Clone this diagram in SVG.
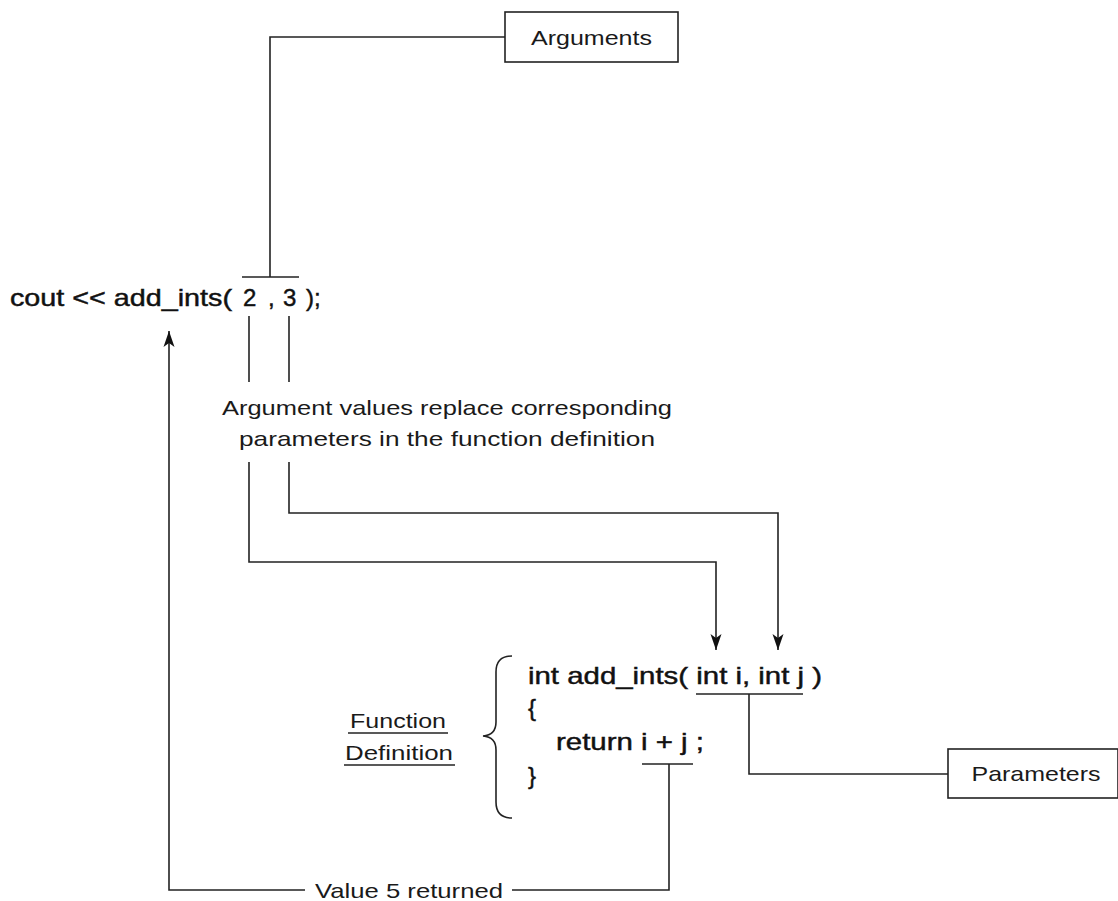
<svg xmlns="http://www.w3.org/2000/svg" width="1118" height="901" viewBox="0 0 1118 901">
<defs>
<style>
.code{font-family:"Liberation Sans",Arial,sans-serif;font-size:24px;fill:#111;stroke:#111;stroke-width:0.45;}
.lbl{font-family:"Liberation Sans",Arial,sans-serif;font-size:21px;fill:#1a1a1a;}
.ln{fill:none;stroke:#222;stroke-width:1.6;}
.box{fill:#fff;stroke:#222;stroke-width:1.6;}
</style>
<marker id="ah" viewBox="0 0 16 14" refX="16" refY="7" markerWidth="16" markerHeight="14" markerUnits="userSpaceOnUse" orient="auto">
<path d="M0,1.5 L16,7 L0,12.5 L4,7 Z" fill="#111"/>
</marker>
</defs>
<rect width="1118" height="901" fill="#fff"/>
<g id="connectors">
<polyline class="ln" points="505,37 270,37 270,277"/>
<line class="ln" x1="242" y1="277" x2="299" y2="277"/>
<line class="ln" x1="249" y1="316" x2="249" y2="382"/>
<line class="ln" x1="289" y1="316" x2="289" y2="382"/>
<polyline class="ln" points="249,462 249,562 716,562 716,650" marker-end="url(#ah)"/>
<polyline class="ln" points="289,462 289,513 778,513 778,650" marker-end="url(#ah)"/>
<line class="ln" x1="696" y1="694" x2="803" y2="694"/>
<polyline class="ln" points="749,694 749,774 948,774"/>
<line class="ln" x1="642" y1="764" x2="693" y2="764"/>
<polyline class="ln" points="512,890 669,890 669,764"/>
<polyline class="ln" points="305,890 169,890 169,331" marker-end="url(#ah)"/>
<path class="ln" d="M512,656 Q496,656 496,672 L496,722 Q496,735 483,736 Q496,737 496,750 L496,802 Q496,818 512,818" stroke="#555"/>
</g>
<g id="call">
<text class="code" x="10" y="306" textLength="222" lengthAdjust="spacingAndGlyphs">cout &lt;&lt; add_ints(</text>
<text class="code" x="243" y="306" font-size="26">2</text>
<text class="code" x="268" y="306">,</text>
<text class="code" x="283" y="306" font-size="26">3</text>
<text class="code" x="306" y="306">);</text>
</g>
<g id="arguments">
<rect class="box" x="505" y="12" width="173" height="50"/>
<text class="lbl" x="591.5" y="45" text-anchor="middle" textLength="121" lengthAdjust="spacingAndGlyphs">Arguments</text>
</g>
<g id="note">
<text class="lbl" x="447" y="415" text-anchor="middle" textLength="450" lengthAdjust="spacingAndGlyphs">Argument values replace corresponding</text>
<text class="lbl" x="447" y="446" text-anchor="middle" textLength="416" lengthAdjust="spacingAndGlyphs">parameters in the function definition</text>
</g>
<g id="definition">
<text class="code" x="528" y="684" textLength="294" lengthAdjust="spacingAndGlyphs">int add_ints( int i, int j )</text>
<text class="code" x="528" y="716">{</text>
<text class="code" x="556" y="750" textLength="148" lengthAdjust="spacingAndGlyphs">return i + j ;</text>
<text class="code" x="528" y="784">}</text>
</g>
<g id="function-definition-label">
<text class="lbl" x="398" y="728" text-anchor="middle" textLength="96" lengthAdjust="spacingAndGlyphs">Function</text>
<line class="ln" x1="348" y1="733" x2="448" y2="733"/>
<text class="lbl" x="399" y="760" text-anchor="middle" textLength="108" lengthAdjust="spacingAndGlyphs">Definition</text>
<line class="ln" x1="344" y1="765" x2="455" y2="765"/>
</g>
<g id="parameters">
<rect class="box" x="948" y="749" width="170" height="49"/>
<text class="lbl" x="1036" y="781" text-anchor="middle" textLength="129" lengthAdjust="spacingAndGlyphs">Parameters</text>
</g>
<g id="returned">
<text class="lbl" x="409" y="898" text-anchor="middle" textLength="188" lengthAdjust="spacingAndGlyphs">Value 5 returned</text>
</g>
</svg>
